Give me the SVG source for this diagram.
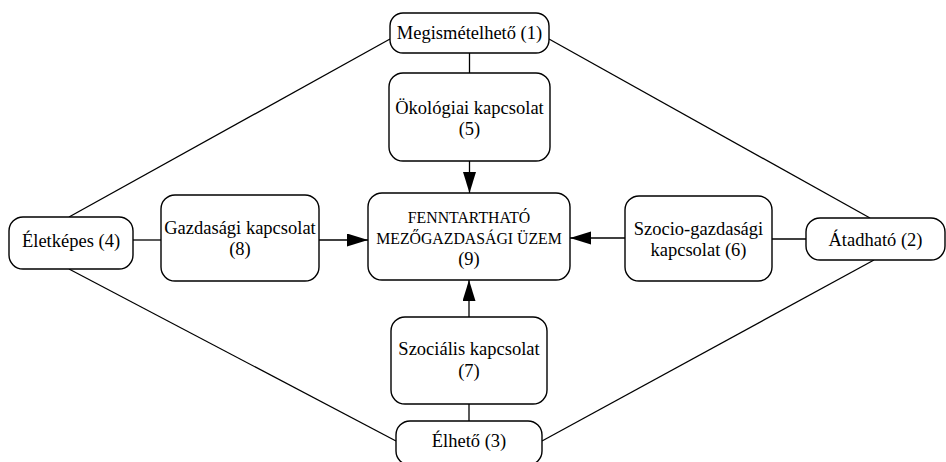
<svg xmlns="http://www.w3.org/2000/svg" width="946" height="462" viewBox="0 0 946 462">
<style>
.box{fill:#fff;stroke:#000;stroke-width:1.4}
.t{font-family:"Liberation Serif","Times New Roman",serif;font-size:18.5px;fill:#000;text-anchor:middle}
.s{font-size:15.8px}
.c line{stroke:#000;stroke-width:1.3}
</style>
<defs>
<marker id="ah" markerUnits="userSpaceOnUse" markerWidth="22" markerHeight="14" refX="21" refY="6.5" orient="auto">
<path d="M0,0 L21,6.5 L0,13 z" fill="#000"/>
</marker>
</defs>
<rect width="946" height="462" fill="#fff"/>
<g class="c" id="connectors">
<line x1="390" y1="39" x2="69" y2="217"/>
<line x1="549" y1="39" x2="870" y2="218"/>
<line x1="69" y1="269" x2="396" y2="441"/>
<line x1="874" y1="260" x2="542" y2="441"/>
<line x1="469.5" y1="53" x2="469.5" y2="73"/>
<line x1="469.5" y1="161" x2="469.5" y2="193" marker-end="url(#ah)"/>
<line x1="133" y1="240" x2="161" y2="240"/>
<line x1="319" y1="240" x2="368" y2="240" marker-end="url(#ah)"/>
<line x1="772" y1="239" x2="806" y2="239"/>
<line x1="625" y1="238" x2="570" y2="238" marker-end="url(#ah)"/>
<line x1="469" y1="317" x2="469" y2="280" marker-end="url(#ah)"/>
<line x1="469" y1="404" x2="469" y2="421"/>
</g>
<g id="n1"><rect class="box" x="390" y="13" width="159" height="40" rx="13"/><text class="t" x="469.5" y="39">Megismételhető (1)</text></g>
<g id="n5"><rect class="box" x="389" y="73" width="161" height="88" rx="14"/><text class="t" x="469.5" y="114">Ökológiai kapcsolat</text><text class="t" x="469.5" y="135">(5)</text></g>
<g id="n9"><rect class="box" x="368" y="193" width="202" height="87" rx="14"/><text class="t s" x="469" y="223">FENNTARTHATÓ</text><text class="t s" x="469" y="244">MEZŐGAZDASÁGI ÜZEM</text><text class="t" x="469" y="265">(9)</text></g>
<g id="n8"><rect class="box" x="161" y="195" width="158" height="86" rx="14"/><text class="t" x="240" y="234">Gazdasági kapcsolat</text><text class="t" x="240" y="255">(8)</text></g>
<g id="n4"><rect class="box" x="9" y="217" width="124" height="52" rx="14"/><text class="t" x="71" y="247">Életképes (4)</text></g>
<g id="n6"><rect class="box" x="625" y="196" width="147" height="85" rx="14"/><text class="t" x="698.5" y="235">Szocio-gazdasági</text><text class="t" x="698.5" y="256">kapcsolat (6)</text></g>
<g id="n2"><rect class="box" x="806" y="218" width="139" height="42" rx="14"/><text class="t" x="875.5" y="246">Átadható (2)</text></g>
<g id="n7"><rect class="box" x="391" y="317" width="156" height="87" rx="14"/><text class="t" x="469" y="355">Szociális kapcsolat</text><text class="t" x="469" y="377">(7)</text></g>
<g id="n3"><rect class="box" x="396" y="421" width="146" height="44" rx="14"/><text class="t" x="469" y="447">Élhető (3)</text></g>
</svg>
